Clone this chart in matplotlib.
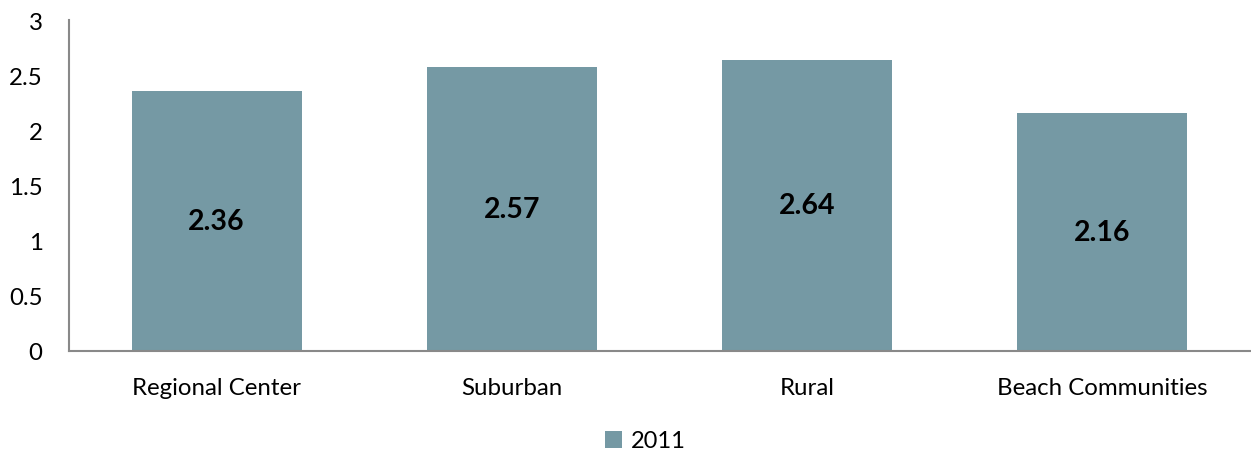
import matplotlib.pyplot as plt
import numpy as np

# 数据
categories = ['Regional Center', 'Suburban', 'Rural', 'Beach Communities']
values_2011 = [2.36, 2.57, 2.64, 2.16]
yticks = [0, 0.5, 1, 1.5, 2, 2.5, 3]
ytick_labels = ['0', '0.5', '1', '1.5', '2', '2.5', '3']

plt.rcParams['font.family'] = ['Lato', 'DejaVu Sans']

fig = plt.figure(figsize=(12.51, 4.56), dpi=100)
ax = fig.add_axes([69 / 1251, 1 - 352 / 456, 1181 / 1251, 331 / 456])

x = np.arange(len(categories))
bar_color = '#7599a4'
bars = ax.bar(x, values_2011, width=0.576, color=bar_color, label='2011')

# 柱内数值标签
for xi, v in zip(x, values_2011):
    ax.text(xi, v / 2, '%.2f' % v, ha='center', va='center',
            fontsize=20.5, fontweight='bold', color='black')

ax.set_xlim(-0.5, 3.5)
ax.set_ylim(0, 3)
ax.set_yticks(yticks)
ax.set_yticklabels(ytick_labels)
ax.set_xticks(x)
ax.set_xticklabels(categories)
ax.tick_params(axis='both', length=0, labelsize=17.3, colors='black')
ax.tick_params(axis='y', pad=19)
ax.tick_params(axis='x', pad=19)

for s in ['top', 'right']:
    ax.spines[s].set_visible(False)
for s in ['left', 'bottom']:
    ax.spines[s].set_color('#898989')
    ax.spines[s].set_linewidth(1.5)

ax.legend(loc='center', bbox_to_anchor=(645 / 1251, 1 - 442 / 456),
          bbox_transform=fig.transFigure, frameon=False, fontsize=17,
          handlelength=0.75, handleheight=0.75, handletextpad=0.35)

fig.savefig('out.png', dpi=100)
